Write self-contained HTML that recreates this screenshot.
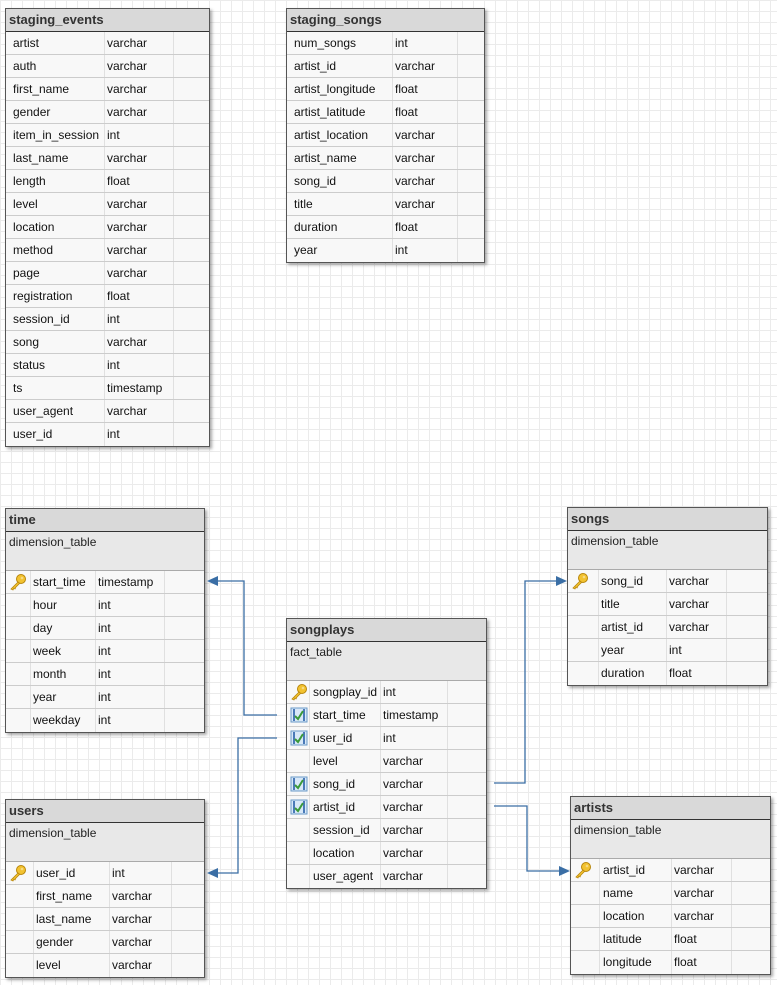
<!DOCTYPE html>
<html><head><meta charset="utf-8">
<style>
body{margin:0;width:777px;height:985px;overflow:hidden;background:#fff;
background-image:linear-gradient(#ebebeb 1px,transparent 1px),linear-gradient(90deg,#ebebeb 1px,transparent 1px);background-size:11px 11px;
font-family:"Liberation Sans",sans-serif;font-size:12px;color:#111;position:relative}
.t{position:absolute;background:#f7f7f7;border:1px solid #555;box-shadow:2px 2px 3px rgba(0,0,0,.35)}
.h{height:23px;box-sizing:border-box;background:#d9d9d9;border-bottom:1px solid #333;font-weight:bold;font-size:13px;color:#333;line-height:22px;padding-left:3px}
.d{height:39px;background:#e8e8e8;border-bottom:1px solid #aaa;font-size:12px;padding:3px 0 0 3px;box-sizing:border-box;color:#222}
.r{height:23px;box-sizing:border-box;border-bottom:1px solid #ccc;position:relative;line-height:22px;background:#f8f8f8}
.r:last-child{border-bottom:none}
.r span{position:absolute;top:0}
.r .v{position:absolute;top:0;bottom:0;width:1px;background:#e0e0e0}
svg.c{position:absolute;left:0;top:0}
</style></head><body>
<div id="root"></div>
<svg class="c" width="777" height="985">
<g stroke="#3a6ea5" stroke-width="1.3" fill="none">
<polyline points="277,715 244,715 244,581 216,581"/>
<polyline points="277,738 238,738 238,873 216,873"/>
<polyline points="494,783 525,783 525,581 558,581"/>
<polyline points="494,806 527,806 527,871 561,871"/>
</g>
<g fill="#3a6ea5">
<polygon points="207,581 218,576 218,586"/>
<polygon points="207,873 218,868 218,878"/>
<polygon points="567,581 556,576 556,586"/>
<polygon points="570,871 559,866 559,876"/>
</g>
</svg>
<script>
var key='<svg width="18" height="18" viewBox="0 0 18 18" style="position:absolute;left:3px;top:2px"><circle cx="12" cy="6" r="4.5" fill="#f2c230" stroke="#b8860b"/><circle cx="13" cy="5" r="1.3" fill="#fff6"/><path d="M9 9 L2 16 L4 17 L5 15 L6 16 L7 14 L10.5 10.5Z" fill="#f2c230" stroke="#b8860b" stroke-width=".8"/></svg>';
var fk='<svg width="18" height="16" viewBox="0 0 18 16" style="position:absolute;left:3px;top:3px"><rect x="1" y="1" width="16" height="14" fill="#d8e8f8" stroke="#6a9ac8"/><line x1="4" y1="2" x2="4" y2="14" stroke="#4a7ab8" stroke-width="2"/><line x1="14" y1="2" x2="14" y2="14" stroke="#4a7ab8" stroke-width="2"/><polyline points="5,9 8,12 13,4" stroke="#3a9a3a" stroke-width="2" fill="none"/></svg>';
function T(x,y,w,name,desc,rows,ic,nx,tx,dv){
 var h='<div class="t" style="left:'+x+'px;top:'+y+'px;width:'+w+'px"><div class="h">'+name+'</div>';
 if(desc)h+='<div class="d">'+desc+'</div>';
 rows.forEach(function(r){
  h+='<div class="r">';
  if(ic)h+='<div class="v" style="left:'+ic+'px"></div>';
  h+='<div class="v" style="left:'+(tx-3)+'px"></div><div class="v" style="left:'+dv+'px"></div>';
  if(r[2]=='k')h+=key; if(r[2]=='f')h+=fk;
  h+='<span style="left:'+nx+'px">'+r[0]+'</span><span style="left:'+tx+'px">'+r[1]+'</span></div>';
 });
 return h+'</div>';
}
function P(s){return s.split(',').map(function(a){return a.split(':')})}
var o='';
o+=T(5,8,203,'staging_events',null,P('artist:varchar,auth:varchar,first_name:varchar,gender:varchar,item_in_session:int,last_name:varchar,length:float,level:varchar,location:varchar,method:varchar,page:varchar,registration:float,session_id:int,song:varchar,status:int,ts:timestamp,user_agent:varchar,user_id:int'),0,7,101,167);
o+=T(286,8,197,'staging_songs',null,P('num_songs:int,artist_id:varchar,artist_longitude:float,artist_latitude:float,artist_location:varchar,artist_name:varchar,song_id:varchar,title:varchar,duration:float,year:int'),0,7,108,170);
o+=T(5,508,198,'time','dimension_table',P('start_time:timestamp:k,hour:int,day:int,week:int,month:int,year:int,weekday:int'),24,27,92,158);
o+=T(567,507,199,'songs','dimension_table',P('song_id:varchar:k,title:varchar,artist_id:varchar,year:int,duration:float'),30,33,101,158);
o+=T(286,618,199,'songplays','fact_table',P('songplay_id:int:k,start_time:timestamp:f,user_id:int:f,level:varchar,song_id:varchar:f,artist_id:varchar:f,session_id:varchar,location:varchar,user_agent:varchar'),22,26,96,160);
o+=T(5,799,198,'users','dimension_table',P('user_id:int:k,first_name:varchar,last_name:varchar,gender:varchar,level:varchar'),27,30,106,165);
o+=T(570,796,199,'artists','dimension_table',P('artist_id:varchar:k,name:varchar,location:varchar,latitude:float,longitude:float'),28,32,103,160);
document.getElementById('root').innerHTML=o;
</script>
</body></html>
